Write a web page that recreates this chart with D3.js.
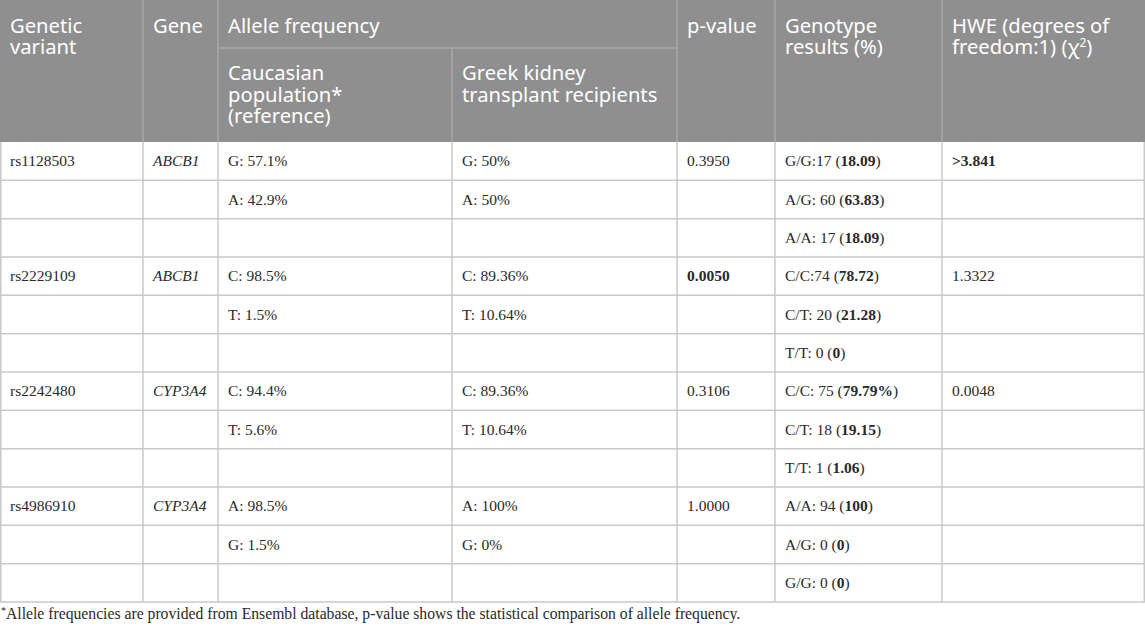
<!DOCTYPE html>
<html>
<head>
<meta charset="utf-8">
<script src="https://cdn.jsdelivr.net/npm/d3@7"></script>
<style>
  body { margin: 0; background: #fff; }
  svg { display: block; }
  .head { font-family: "Noto Sans", sans-serif; font-size: 20.2px; fill: #fff; }
  .cell { font-family: "Liberation Serif", "Times New Roman", serif; font-size: 15.5px; fill: #2a2a2a; }
  .note { font-family: "Liberation Serif", "Times New Roman", serif; font-size: 15.7px; fill: #2a2a2a; }
</style>
</head>
<body>
<svg id="chart" width="1145" height="628"></svg>
<script>
// ----- DATA -----
var variants = ["rs1128503", "rs2229109", "rs2242480", "rs4986910"];
var genes = ["ABCB1", "ABCB1", "CYP3A4", "CYP3A4"];
var caucasian = [["G: 57.1%", "A: 42.9%"], ["C: 98.5%", "T: 1.5%"], ["C: 94.4%", "T: 5.6%"], ["A: 98.5%", "G: 1.5%"]];
var greek = [["G: 50%", "A: 50%"], ["C: 89.36%", "T: 10.64%"], ["C: 89.36%", "T: 10.64%"], ["A: 100%", "G: 0%"]];
var pValues = ["0.3950", "0.0050", "0.3106", "1.0000"];
var pSignificant = [false, true, false, false];
var genotypeCounts = [
    ["G/G:17", "A/G: 60", "A/A: 17"],
    ["C/C:74", "C/T: 20", "T/T: 0"],
    ["C/C: 75", "C/T: 18", "T/T: 1"],
    ["A/A: 94", "A/G: 0", "G/G: 0"]
];
var genotypePercents = [
    ["18.09", "63.83", "18.09"],
    ["78.72", "21.28", "0"],
    ["79.79%", "19.15", "1.06"],
    ["100", "0", "0"]
];
var hwe = [">3.841", "1.3322", "0.0048", ""];
var hweBold = [true, false, false, false];
var footnote = "Allele frequencies are provided from Ensembl database, p-value shows the statistical comparison of allele frequency.";

// ----- LAYOUT -----
var W = 1145;
var colEdges = [0, 143, 218, 452, 677, 775, 942, W];
var headTop = 0, subLine = 48, headBottom = 142, tableBottom = 602;
var pad = 10;
var lineH = 21.7;

var svg = d3.select("#chart");

// one row per genotype line (3 per variant)
var rows = [];
variants.forEach(function(v, i) {
    for (var j = 0; j < 3; j++) {
        rows.push({ i: i, j: j });
    }
});

var y = d3.scaleBand()
    .domain(d3.range(rows.length))
    .range([headBottom, tableBottom]);

// ----- HEADER -----
svg.append("rect")
    .attr("x", 0).attr("y", headTop)
    .attr("width", W).attr("height", headBottom - headTop)
    .style("fill", "#8f8f8f");

var headLine = "#a9a9a9";
[1, 2, 4, 5, 6].forEach(function(c) {
    svg.append("line")
        .attr("x1", colEdges[c]).attr("x2", colEdges[c])
        .attr("y1", headTop).attr("y2", headBottom)
        .attr("stroke", headLine).attr("stroke-width", 1.5);
});
svg.append("line")
    .attr("x1", colEdges[3]).attr("x2", colEdges[3])
    .attr("y1", subLine).attr("y2", headBottom)
    .attr("stroke", headLine).attr("stroke-width", 1.5);
svg.append("line")
    .attr("x1", colEdges[2]).attr("x2", colEdges[4])
    .attr("y1", subLine).attr("y2", subLine)
    .attr("stroke", headLine).attr("stroke-width", 1.5);

var headers = [
    { c: 0, y0: 32.5, lines: ["Genetic", "variant"] },
    { c: 1, y0: 32.5, lines: ["Gene"] },
    { c: 2, y0: 32.5, lines: ["Allele frequency"] },
    { c: 2, y0: 80, lines: ["Caucasian", "population*", "(reference)"] },
    { c: 3, y0: 80, lines: ["Greek kidney", "transplant recipients"] },
    { c: 4, y0: 32.5, lines: ["p-value"] },
    { c: 5, y0: 32.5, lines: ["Genotype", "results (%)"] },
    { c: 6, y0: 32.5, lines: ["HWE (degrees of", "freedom:1) (\u03c7"] }
];
headers.forEach(function(h) {
    var t = svg.append("text").attr("class", "head");
    h.lines.forEach(function(l, k) {
        t.append("tspan")
            .attr("x", colEdges[h.c] + pad)
            .attr("y", h.y0 + k * lineH)
            .text(l);
    });
    if (h.c == 6) {
        t.append("tspan").attr("dy", -7).style("font-size", "12px").text("2");
        t.append("tspan").attr("dy", 7).text(")");
    }
});

// ----- BODY GRID -----
var gridColor = "#c9c9c9";
rows.forEach(function(r, k) {
    svg.append("line")
        .attr("x1", 0).attr("x2", W)
        .attr("y1", y(k) + y.bandwidth()).attr("y2", y(k) + y.bandwidth())
        .attr("stroke", gridColor).attr("stroke-width", 1.5);
});
colEdges.forEach(function(x, c) {
    var xx = c == 0 ? 0.75 : (c == colEdges.length - 1 ? W - 0.75 : x);
    svg.append("line")
        .attr("x1", xx).attr("x2", xx)
        .attr("y1", headBottom).attr("y2", tableBottom)
        .attr("stroke", gridColor).attr("stroke-width", 1.5);
});

// ----- BODY TEXT -----
function cellText(c, k) {
    return svg.append("text")
        .attr("class", "cell")
        .attr("x", colEdges[c] + pad)
        .attr("y", y(k) + y.bandwidth() / 2 + 5);
}

rows.forEach(function(r, k) {
    var i = r.i, j = r.j;
    if (j == 0) {
        cellText(0, k).text(variants[i]);
        cellText(1, k).style("font-style", "italic").text(genes[i]);
        cellText(4, k).style("font-weight", pSignificant[i] ? "bold" : "normal").text(pValues[i]);
        cellText(6, k).style("font-weight", hweBold[i] ? "bold" : "normal").text(hwe[i]);
    }
    if (caucasian[i][j]) cellText(2, k).text(caucasian[i][j]);
    if (greek[i][j]) cellText(3, k).text(greek[i][j]);
    var g = cellText(5, k);
    g.append("tspan").text(genotypeCounts[i][j] + " (");
    g.append("tspan").style("font-weight", "bold").text(genotypePercents[i][j]);
    g.append("tspan").text(")");
});

// ----- FOOTNOTE -----
var note = svg.append("text").attr("class", "note").attr("x", 1).attr("y", 618.5);
note.append("tspan").attr("dy", -5).style("font-size", "10px").text("*");
note.append("tspan").attr("dy", 5).text(footnote);
</script>
</body>
</html>
